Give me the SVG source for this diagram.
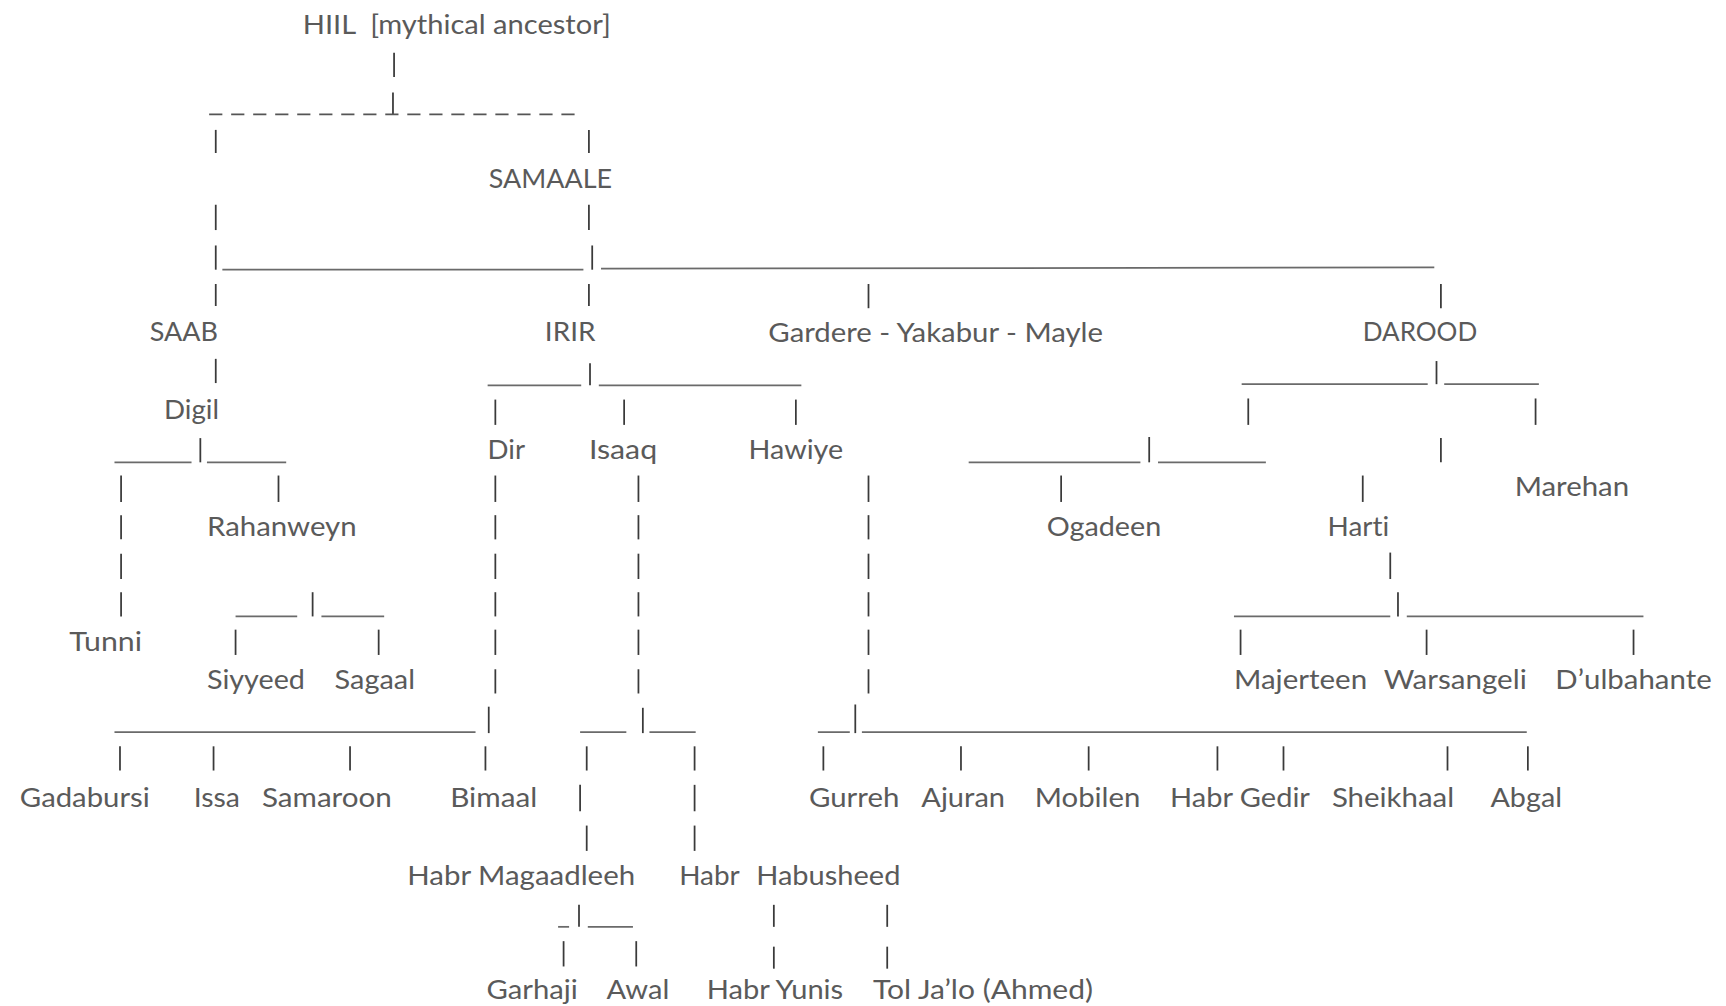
<svg xmlns="http://www.w3.org/2000/svg" width="1726" height="1006" viewBox="0 0 1726 1006">
<style>
text{font-family:Lato,"Open Sans","Liberation Sans",sans-serif;font-size:25px;fill:#5a5a5a;white-space:pre;font-variant-ligatures:none}
.v{stroke:#3a3a3a;stroke-width:1.6}
.h{stroke:#6a6a6a;stroke-width:1.6}
.d{stroke:#555;stroke-width:1.6;stroke-dasharray:12 8}
</style>
<rect width="1726" height="1006" fill="#fff"/>
<g transform="scale(1.100765)">
<g id="connectors">
<line class="v" x1="358" y1="48" x2="358" y2="70"/>
<line class="v" x1="357" y1="84" x2="357" y2="104"/>
<line class="d" x1="190" y1="104" x2="522" y2="104"/>
<line class="v" x1="196" y1="118" x2="196" y2="139"/><line class="v" x1="535" y1="118" x2="535" y2="139"/>
<line class="v" x1="196" y1="186" x2="196" y2="209"/><line class="v" x1="535" y1="186" x2="535" y2="209"/>
<line class="v" x1="196" y1="223" x2="196" y2="245"/><line class="v" x1="538" y1="223" x2="538" y2="245"/>
<line class="h" x1="202" y1="245" x2="530" y2="245"/><line class="h" x1="546" y1="244" x2="1303" y2="243"/>
<line class="v" x1="196" y1="258" x2="196" y2="278"/><line class="v" x1="535" y1="258" x2="535" y2="278"/>
<line class="v" x1="789" y1="258" x2="789" y2="280"/><line class="v" x1="1309" y1="258" x2="1309" y2="280"/>
<line class="v" x1="196" y1="326" x2="196" y2="348"/>
<line class="h" x1="443" y1="350" x2="528" y2="350"/><line class="v" x1="536" y1="330" x2="536" y2="350"/><line class="h" x1="544" y1="350" x2="728" y2="350"/>
<line class="h" x1="1128" y1="349" x2="1297" y2="349"/><line class="v" x1="1305" y1="328" x2="1305" y2="349"/><line class="h" x1="1312" y1="349" x2="1398" y2="349"/>
<line class="v" x1="450" y1="363" x2="450" y2="386"/><line class="v" x1="567" y1="363" x2="567" y2="386"/><line class="v" x1="723" y1="363" x2="723" y2="386"/>
<line class="v" x1="1134" y1="362" x2="1134" y2="386"/><line class="v" x1="1395" y1="362" x2="1395" y2="386"/>
<line class="h" x1="104" y1="420" x2="174" y2="420"/><line class="v" x1="182" y1="398" x2="182" y2="420"/><line class="h" x1="188" y1="420" x2="260" y2="420"/>
<line class="h" x1="880" y1="420" x2="1036" y2="420"/><line class="v" x1="1044" y1="397" x2="1044" y2="420"/><line class="h" x1="1052" y1="420" x2="1150" y2="420"/>
<line class="v" x1="1309" y1="398" x2="1309" y2="420"/>
<line class="v" x1="110" y1="432" x2="110" y2="456"/><line class="v" x1="253" y1="432" x2="253" y2="456"/>
<line class="v" x1="964" y1="432" x2="964" y2="456"/><line class="v" x1="1238" y1="432" x2="1238" y2="456"/>
<line class="v" x1="110" y1="468" x2="110" y2="490"/><line class="v" x1="110" y1="503" x2="110" y2="526"/><line class="v" x1="110" y1="538" x2="110" y2="560"/>
<line class="v" x1="450" y1="432" x2="450" y2="456"/><line class="v" x1="450" y1="468" x2="450" y2="490"/><line class="v" x1="450" y1="503" x2="450" y2="526"/><line class="v" x1="450" y1="538" x2="450" y2="560"/><line class="v" x1="450" y1="572" x2="450" y2="595"/><line class="v" x1="450" y1="608" x2="450" y2="630"/>
<line class="v" x1="580" y1="432" x2="580" y2="456"/><line class="v" x1="580" y1="468" x2="580" y2="490"/><line class="v" x1="580" y1="503" x2="580" y2="526"/><line class="v" x1="580" y1="538" x2="580" y2="560"/><line class="v" x1="580" y1="572" x2="580" y2="595"/><line class="v" x1="580" y1="608" x2="580" y2="630"/>
<line class="v" x1="789" y1="432" x2="789" y2="456"/><line class="v" x1="789" y1="468" x2="789" y2="490"/><line class="v" x1="789" y1="503" x2="789" y2="526"/><line class="v" x1="789" y1="538" x2="789" y2="560"/><line class="v" x1="789" y1="572" x2="789" y2="595"/><line class="v" x1="789" y1="608" x2="789" y2="630"/>
<line class="v" x1="1263" y1="502" x2="1263" y2="526"/>
<line class="h" x1="214" y1="560" x2="270" y2="560"/><line class="v" x1="284" y1="538" x2="284" y2="560"/><line class="h" x1="292" y1="560" x2="349" y2="560"/>
<line class="h" x1="1121" y1="560" x2="1263" y2="560"/><line class="v" x1="1270" y1="538" x2="1270" y2="560"/><line class="h" x1="1278" y1="560" x2="1493" y2="560"/>
<line class="v" x1="214" y1="572" x2="214" y2="595"/><line class="v" x1="344" y1="572" x2="344" y2="595"/>
<line class="v" x1="1127" y1="572" x2="1127" y2="595"/><line class="v" x1="1296" y1="572" x2="1296" y2="595"/><line class="v" x1="1484" y1="572" x2="1484" y2="595"/>
<line class="h" x1="104" y1="665" x2="432" y2="665"/><line class="v" x1="444" y1="642" x2="444" y2="666"/>
<line class="h" x1="527" y1="665" x2="569" y2="665"/><line class="v" x1="584" y1="643" x2="584" y2="666"/><line class="h" x1="590" y1="665" x2="632" y2="665"/>
<line class="h" x1="743" y1="665" x2="772" y2="665"/><line class="v" x1="777" y1="640" x2="777" y2="666"/><line class="h" x1="783" y1="665" x2="1387" y2="665"/>
<line class="v" x1="109" y1="678" x2="109" y2="700"/><line class="v" x1="194" y1="678" x2="194" y2="700"/><line class="v" x1="318" y1="678" x2="318" y2="700"/><line class="v" x1="441" y1="678" x2="441" y2="700"/>
<line class="v" x1="533" y1="678" x2="533" y2="700"/><line class="v" x1="631" y1="678" x2="631" y2="700"/>
<line class="v" x1="748" y1="678" x2="748" y2="700"/><line class="v" x1="873" y1="678" x2="873" y2="700"/><line class="v" x1="989" y1="678" x2="989" y2="700"/><line class="v" x1="1106" y1="678" x2="1106" y2="700"/><line class="v" x1="1166" y1="678" x2="1166" y2="700"/><line class="v" x1="1315" y1="678" x2="1315" y2="700"/><line class="v" x1="1388" y1="678" x2="1388" y2="700"/>
<line class="v" x1="527" y1="713" x2="527" y2="737"/><line class="v" x1="631" y1="713" x2="631" y2="737"/>
<line class="v" x1="533" y1="750" x2="533" y2="773"/><line class="v" x1="631" y1="750" x2="631" y2="773"/>
<line class="h" x1="507" y1="842" x2="517" y2="842"/><line class="v" x1="526" y1="822" x2="526" y2="842"/><line class="h" x1="534" y1="842" x2="575" y2="842"/>
<line class="v" x1="703" y1="822" x2="703" y2="842"/><line class="v" x1="806" y1="822" x2="806" y2="842"/>
<line class="v" x1="512" y1="855" x2="512" y2="878"/><line class="v" x1="578" y1="855" x2="578" y2="878"/>
<line class="v" x1="703" y1="860" x2="703" y2="880"/><line class="v" x1="806" y1="860" x2="806" y2="880"/>
</g>
<g id="hiil"><text x="275" y="31" textLength="280" lengthAdjust="spacingAndGlyphs">HIIL  [mythical ancestor]</text></g>
<g id="samaale"><text x="444" y="171" textLength="112" lengthAdjust="spacingAndGlyphs">SAMAALE</text></g>
<g id="saab"><text x="136" y="310" textLength="62" lengthAdjust="spacingAndGlyphs">SAAB</text></g>
<g id="irir"><text x="495" y="310" textLength="46" lengthAdjust="spacingAndGlyphs">IRIR</text></g>
<g id="gardere"><text x="698" y="311" textLength="304" lengthAdjust="spacingAndGlyphs">Gardere - Yakabur - Mayle</text></g>
<g id="darood"><text x="1238" y="310" textLength="104" lengthAdjust="spacingAndGlyphs">DAROOD</text></g>
<g id="digil"><text x="149" y="381" textLength="50" lengthAdjust="spacingAndGlyphs">Digil</text></g>
<g id="dir"><text x="443" y="417" textLength="34" lengthAdjust="spacingAndGlyphs">Dir</text></g>
<g id="isaaq"><text x="535" y="417" textLength="62" lengthAdjust="spacingAndGlyphs">Isaaq</text></g>
<g id="hawiye"><text x="680" y="417" textLength="86" lengthAdjust="spacingAndGlyphs">Hawiye</text></g>
<g id="marehan"><text x="1376" y="451" textLength="104" lengthAdjust="spacingAndGlyphs">Marehan</text></g>
<g id="rahanweyn"><text x="188" y="487" textLength="136" lengthAdjust="spacingAndGlyphs">Rahanweyn</text></g>
<g id="ogadeen"><text x="951" y="487" textLength="104" lengthAdjust="spacingAndGlyphs">Ogadeen</text></g>
<g id="harti"><text x="1206" y="487" textLength="56" lengthAdjust="spacingAndGlyphs">Harti</text></g>
<g id="tunni"><text x="63" y="591" textLength="66" lengthAdjust="spacingAndGlyphs">Tunni</text></g>
<g id="siyyeed"><text x="188" y="626" textLength="89" lengthAdjust="spacingAndGlyphs">Siyyeed</text></g>
<g id="sagaal"><text x="304" y="626" textLength="73" lengthAdjust="spacingAndGlyphs">Sagaal</text></g>
<g id="majerteen"><text x="1121" y="626" textLength="121" lengthAdjust="spacingAndGlyphs">Majerteen</text></g>
<g id="warsangeli"><text x="1257" y="626" textLength="130" lengthAdjust="spacingAndGlyphs">Warsangeli</text></g>
<g id="dulbahante"><text x="1413" y="626" textLength="142" lengthAdjust="spacingAndGlyphs">D’ulbahante</text></g>
<g id="gadabursi"><text x="18" y="733" textLength="118" lengthAdjust="spacingAndGlyphs">Gadabursi</text></g>
<g id="issa"><text x="176" y="733" textLength="42" lengthAdjust="spacingAndGlyphs">Issa</text></g>
<g id="samaroon"><text x="238" y="733" textLength="118" lengthAdjust="spacingAndGlyphs">Samaroon</text></g>
<g id="bimaal"><text x="409" y="733" textLength="79" lengthAdjust="spacingAndGlyphs">Bimaal</text></g>
<g id="gurreh"><text x="735" y="733" textLength="82" lengthAdjust="spacingAndGlyphs">Gurreh</text></g>
<g id="ajuran"><text x="837" y="733" textLength="76" lengthAdjust="spacingAndGlyphs">Ajuran</text></g>
<g id="mobilen"><text x="940" y="733" textLength="96" lengthAdjust="spacingAndGlyphs">Mobilen</text></g>
<g id="habrgedir"><text x="1063" y="733" textLength="127" lengthAdjust="spacingAndGlyphs">Habr Gedir</text></g>
<g id="sheikhaal"><text x="1210" y="733" textLength="111" lengthAdjust="spacingAndGlyphs">Sheikhaal</text></g>
<g id="abgal"><text x="1354" y="733" textLength="65" lengthAdjust="spacingAndGlyphs">Abgal</text></g>
<g id="habrmagaadleeh"><text x="370" y="804" textLength="207" lengthAdjust="spacingAndGlyphs">Habr Magaadleeh</text></g>
<g id="habr"><text x="617" y="804" textLength="55" lengthAdjust="spacingAndGlyphs">Habr</text></g>
<g id="habusheed"><text x="687" y="804" textLength="131" lengthAdjust="spacingAndGlyphs">Habusheed</text></g>
<g id="garhaji"><text x="442" y="908" textLength="83" lengthAdjust="spacingAndGlyphs">Garhaji</text></g>
<g id="awal"><text x="551" y="908" textLength="57" lengthAdjust="spacingAndGlyphs">Awal</text></g>
<g id="habryunis"><text x="642" y="908" textLength="124" lengthAdjust="spacingAndGlyphs">Habr Yunis</text></g>
<g id="toljalo"><text x="793" y="908" textLength="200" lengthAdjust="spacingAndGlyphs">Tol Ja’lo (Ahmed)</text></g>
</g>
</svg>
